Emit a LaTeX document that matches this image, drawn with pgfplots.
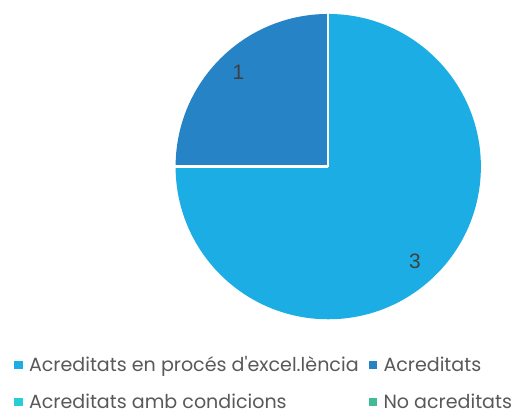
\documentclass[border=0pt]{standalone}
\usepackage{pgfplots}
\usepackage{pgfplotstable}
\pgfplotsset{compat=1.18}
\usepackage{fontspec}
\setmainfont{Poppins}
\newfontfamily\numfont{Liberation Sans}
\definecolor{c1}{HTML}{1CADE4}
\definecolor{c2}{HTML}{2683C6}
\definecolor{c3}{HTML}{27CED7}
\definecolor{c4}{HTML}{42BA97}
\definecolor{legtext}{HTML}{595959}
\definecolor{numtext}{HTML}{404040}

\pgfplotstableread{
value
3
1
0
0
}\piedata

\begin{document}
\begin{tikzpicture}
\pgfplotstablegetelem{0}{value}\of\piedata \edef\va{\pgfplotsretval}
\pgfplotstablegetelem{1}{value}\of\piedata \edef\vb{\pgfplotsretval}
\pgfplotstablegetelem{2}{value}\of\piedata \edef\vc{\pgfplotsretval}
\pgfplotstablegetelem{3}{value}\of\piedata \edef\vd{\pgfplotsretval}
\pgfmathsetmacro\total{\va+\vb+\vc+\vd}
\pgfmathsetmacro\angA{360*\va/\total}
\pgfmathsetmacro\angB{360*\vb/\total}
\pgfmathsetmacro\startB{90-\angA}
\pgfmathsetmacro\endB{90-\angA-\angB}
\begin{axis}[
  hide axis, x=1bp, y=1bp, xmin=0, xmax=515, ymin=0, ymax=417,
  clip=false,
  legend columns=2,
  legend image code/.code={\fill[#1] (0bp,-3.8bp) rectangle (7.5bp,3.8bp);},
  legend style={at={(axis cs:11,62)}, anchor=north west, draw=none, fill=none,
    font=\fontsize{19.2}{19.2}\selectfont, text=legtext,
    cells={anchor=west},
    nodes={inner sep=0pt},
    row sep=20.5bp,
    /tikz/every odd column/.style={column sep=7bp},
    /tikz/every even column/.style={column sep=10bp}},
]
\fill[white] (axis cs:0,0) rectangle (axis cs:515,417);
\fill[c1] (axis cs:329,250) -- ++(90:153bp) arc[start angle=90, delta angle=-\angA, radius=153bp] -- cycle;
\fill[c2] (axis cs:329,250) -- ++(\startB:153bp) arc[start angle=\startB, delta angle=-\angB, radius=153bp] -- cycle;
\draw[white, line width=2.5bp] (axis cs:329,250) -- ++(90:154bp);
\draw[white, line width=2.5bp] (axis cs:329,250) -- ++(\startB:154bp);
\draw[white, line width=2.5bp] (axis cs:329,250) -- ++(\endB:154bp);
\node[font=\numfont\fontsize{21}{21}\selectfont, text=numtext] at (axis cs:239,345) {\pgfmathprintnumber[assume math mode=true]{\vb}};
\node[font=\numfont\fontsize{21}{21}\selectfont, text=numtext] at (axis cs:416,155) {\pgfmathprintnumber[assume math mode=true]{\va}};
\addlegendimage{c1}
\addlegendentry{Acreditats en procés d\textquotesingle excel.lència}
\addlegendimage{c2}
\addlegendentry{Acreditats}
\addlegendimage{c3}
\addlegendentry{Acreditats amb condicions}
\addlegendimage{c4}
\addlegendentry{No acreditats}
\end{axis}
\end{tikzpicture}
\end{document}
